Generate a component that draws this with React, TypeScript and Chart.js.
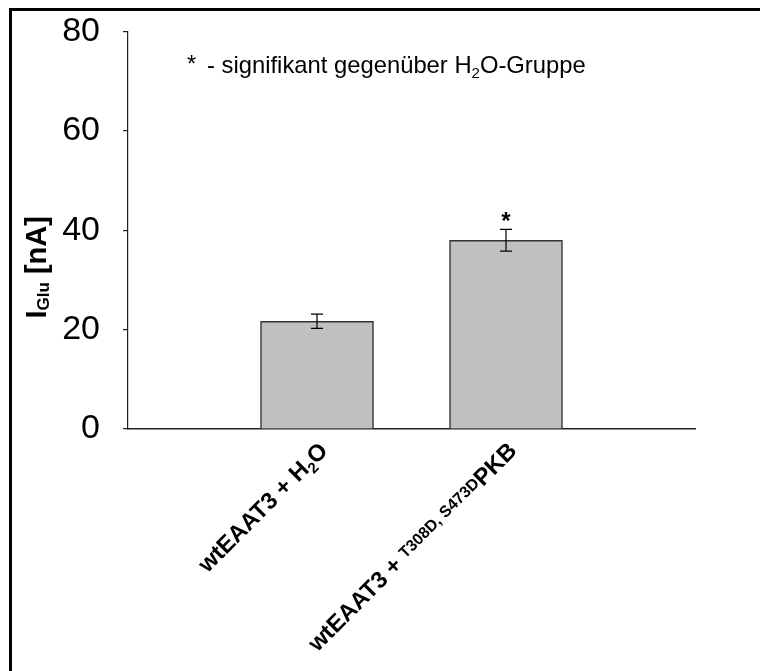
import React, { useEffect, useRef } from "react";
import { Chart, registerables } from "chart.js";

Chart.register(...registerables);

// ---------- data ----------
const categories = ["wtEAAT3 + H2O", "wtEAAT3 + T308D, S473D PKB"];
const values = [21.7, 38.0];
const errors = [1.45, 2.2];
const significant = [false, true];
const yMin = 0;
const yMax = 80;
const yStep = 20;

type Part = { t: string; k: "n" | "sub" | "sup" };
const categoryLabelParts: Part[][] = [
  [
    { t: "wtEAAT3 + H", k: "n" },
    { t: "2", k: "sub" },
    { t: "O", k: "n" },
  ],
  [
    { t: "wtEAAT3 + ", k: "n" },
    { t: "T308D, S473D", k: "sup" },
    { t: "PKB", k: "n" },
  ],
];
const yTitleParts: Part[] = [
  { t: "I", k: "n" },
  { t: "Glu", k: "sub" },
  { t: " [nA]", k: "n" },
];
const noteStar = "*";
const noteParts: Part[] = [
  { t: "- signifikant gegenüber H", k: "n" },
  { t: "2", k: "sub" },
  { t: "O-Gruppe", k: "n" },
];
const sigMark = "*";

const FF = '"Liberation Sans", Arial, Helvetica, sans-serif';

type FontSet = { n: string; sub: string; sup: string; subOff: number; supOff: number };

function drawRich(
  ctx: CanvasRenderingContext2D,
  parts: Part[],
  x: number,
  y: number,
  angle: number,
  align: "left" | "right" | "center",
  fonts: FontSet
) {
  ctx.save();
  ctx.translate(x, y);
  ctx.rotate(angle);
  ctx.textAlign = "left";
  ctx.textBaseline = "alphabetic";
  ctx.fillStyle = "#000";
  const widths = parts.map((p) => {
    ctx.font = fonts[p.k];
    return ctx.measureText(p.t).width;
  });
  const total = widths.reduce((a, b) => a + b, 0);
  let cx = align === "right" ? -total : align === "center" ? -total / 2 : 0;
  parts.forEach((p, i) => {
    ctx.font = fonts[p.k];
    const off = p.k === "sub" ? fonts.subOff : p.k === "sup" ? fonts.supOff : 0;
    ctx.fillText(p.t, cx, off);
    cx += widths[i];
  });
  ctx.restore();
}

const decorPlugin = {
  id: "decor",
  beforeDraw(chart: any) {
    const ctx: CanvasRenderingContext2D = chart.ctx;
    ctx.save();
    ctx.fillStyle = "#fff";
    ctx.fillRect(0, 0, chart.width, chart.height);
    ctx.fillStyle = "#000";
    ctx.fillRect(9, 8, 3, chart.height - 8);
    ctx.fillRect(9, 8, chart.width - 9, 3);
    ctx.restore();
  },
  afterDraw(chart: any) {
    const ctx: CanvasRenderingContext2D = chart.ctx;
    const xs = chart.scales.x;
    const ys = chart.scales.y;
    const area = chart.chartArea;

    // error bars + significance marks
    ctx.save();
    ctx.strokeStyle = "#000";
    ctx.lineWidth = 1.2;
    values.forEach((v, i) => {
      const px = xs.getPixelForValue(i + 1);
      const top = ys.getPixelForValue(v + errors[i]);
      const bot = ys.getPixelForValue(v - errors[i]);
      ctx.beginPath();
      ctx.moveTo(px, top);
      ctx.lineTo(px, bot);
      ctx.moveTo(px - 6, top);
      ctx.lineTo(px + 6, top);
      ctx.moveTo(px - 6, bot);
      ctx.lineTo(px + 6, bot);
      ctx.stroke();
      if (significant[i]) {
        ctx.fillStyle = "#000";
        ctx.font = `bold 24px ${FF}`;
        ctx.textAlign = "center";
        ctx.textBaseline = "alphabetic";
        ctx.fillText(sigMark, px, top);
      }
    });
    ctx.restore();

    // category labels (rotated)
    const lblFonts: FontSet = {
      n: `bold 23.5px ${FF}`,
      sub: `bold 15px ${FF}`,
      sup: `bold 16px ${FF}`,
      subOff: 5,
      supOff: -4,
    };
    categoryLabelParts.forEach((parts, i) => {
      const px = xs.getPixelForValue(i + 1);
      drawRich(ctx, parts, px + 12, area.bottom + 23, -Math.PI / 4, "right", lblFonts);
    });

    // y-axis title
    drawRich(ctx, yTitleParts, 46, (area.top + area.bottom) / 2 + 37, -Math.PI / 2, "center", {
      n: `bold 29px ${FF}`,
      sub: `bold 17px ${FF}`,
      sup: `bold 17px ${FF}`,
      subOff: 3,
      supOff: -8,
    });

    // note
    ctx.save();
    ctx.fillStyle = "#000";
    ctx.font = `23.5px ${FF}`;
    ctx.textAlign = "left";
    ctx.textBaseline = "alphabetic";
    ctx.fillText(noteStar, 187, 72);
    ctx.restore();
    drawRich(ctx, noteParts, 207, 73, 0, "left", {
      n: `23.8px ${FF}`,
      sub: `15px ${FF}`,
      sup: `15px ${FF}`,
      subOff: 5,
      supOff: -8,
    });
  },
};

export default function App() {
  const ref = useRef<HTMLCanvasElement | null>(null);
  useEffect(() => {
    document.body.style.margin = "0";
    const canvas = ref.current!;
    const labels = ["", ...categories, ""];
    const data = [null, ...values, null];
    const chart = new Chart(canvas, {
      type: "bar",
      data: {
        labels,
        datasets: [
          {
            data: data as any,
            backgroundColor: "#c0c0c0",
            borderColor: "#333333",
            borderWidth: 1.5,
            barThickness: 113,
          },
        ],
      },
      options: {
        responsive: false,
        animation: false,
        events: [],
        layout: { padding: { top: 31.7, right: 65, left: 0, bottom: 0 } },
        plugins: { legend: { display: false }, tooltip: { enabled: false } },
        scales: {
          x: {
            type: "category",
            offset: false,
            grid: { display: false, drawTicks: false },
            border: { display: true, color: "#222", width: 1.6 },
            ticks: { display: false },
            afterFit: (s: any) => {
              s.height = 242;
              s.paddingLeft = 0;
              s.paddingRight = 0;
            },
          },
          y: {
            min: yMin,
            max: yMax,
            ticks: {
              stepSize: yStep,
              color: "#000",
              padding: 23,
              font: { family: FF, size: 34 },
            },
            grid: {
              drawOnChartArea: false,
              drawTicks: true,
              tickLength: 5,
              color: "#222",
              lineWidth: 1.2,
            },
            border: { display: true, color: "#222", width: 1.2 },
            afterFit: (s: any) => {
              s.width = 128;
              s.paddingTop = 0;
              s.paddingBottom = 0;
            },
          },
        },
      },
      plugins: [decorPlugin],
    });
    return () => chart.destroy();
  }, []);
  return (
    <div style={{ position: "absolute", left: 0, top: 0, width: 760, height: 671 }}>
      <canvas ref={ref} width={760} height={671} style={{ display: "block" }} />
    </div>
  );
}
